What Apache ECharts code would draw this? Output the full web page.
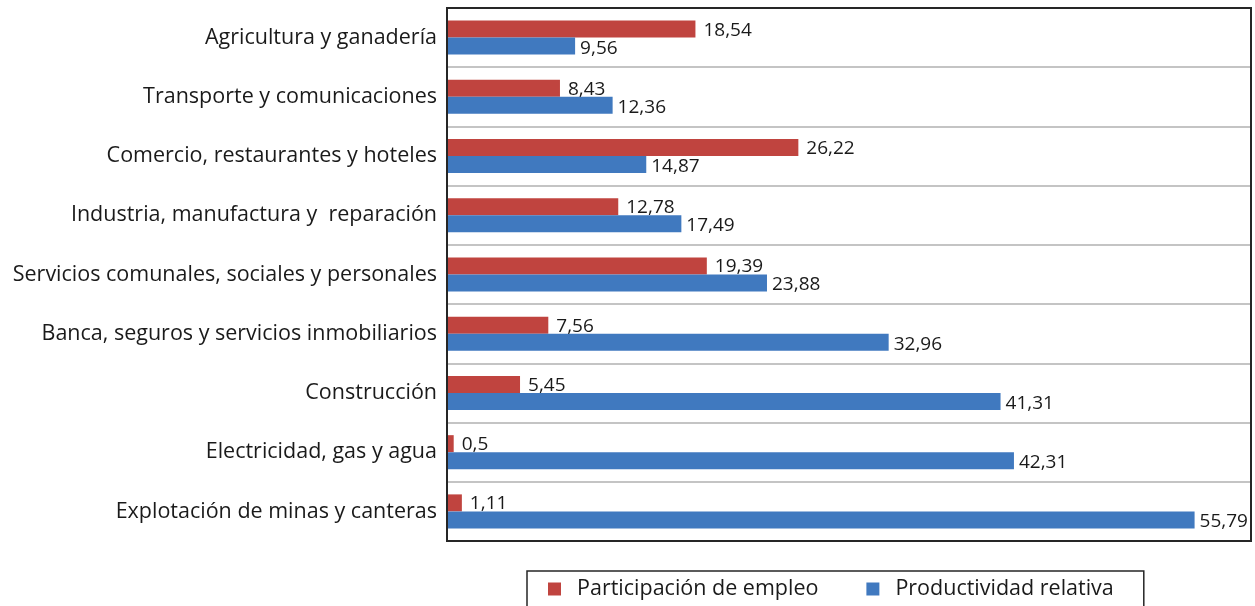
<!DOCTYPE html>
<html>
<head>
<meta charset="utf-8">
<script src="https://cdn.jsdelivr.net/npm/echarts@6/dist/echarts.min.js"></script>
<style>
  html, body { margin: 0; padding: 0; background: #fff; }
  #chart { width: 1255px; height: 606px; }
</style>
</head>
<body>
<div id="chart"></div>
<script>
const categories = [
  'Agricultura y ganadería',
  'Transporte y comunicaciones',
  'Comercio, restaurantes y hoteles',
  'Industria, manufactura y  reparación',
  'Servicios comunales, sociales y personales',
  'Banca, seguros y servicios inmobiliarios',
  'Construcción',
  'Electricidad, gas y agua',
  'Explotación de minas y canteras'
]
const empleo = [18.54, 8.43, 26.22, 12.78, 19.39, 7.56, 5.45, 0.5, 1.11]
const productividad = [9.56, 12.36, 14.87, 17.49, 23.88, 32.96, 41.31, 42.31, 55.79]

const chart = echarts.init(document.getElementById('chart'))
const font = 'Open Sans'
// coma decimal
const fmt = (p) => String(p.value).replace('.', ',')

const option = {
  animation: false,
  textStyle: { fontFamily: font },
  grid: {
    left: 447,
    right: 4,
    top: 8,
    bottom: 65,
    show: true,
    z: 10,
    borderColor: '#262626',
    borderWidth: 2
  },
  xAxis: {
    type: 'value',
    min: 0,
    max: 60,
    axisLabel: { show: false },
    axisLine: { show: false },
    axisTick: { show: false },
    splitLine: { show: false }
  },
  yAxis: {
    type: 'category',
    inverse: true,
    data: categories,
    axisLine: { show: true, lineStyle: { color: '#262626', width: 2 } },
    axisTick: { show: false },
    axisLabel: {
      color: '#1a1a1a',
      fontSize: 21.5,
      fontFamily: font,
      margin: 10
    },
    splitLine: { show: true, lineStyle: { color: '#c4c4c4', width: 2 } }
  },
  legend: {
    top: 571,
    left: 527,
    itemWidth: 13,
    itemHeight: 13,
    itemGap: 48,
    padding: [7, 30, 20, 21],
    borderColor: '#262626',
    borderWidth: 1.5,
    icon: 'rect',
    textStyle: { fontSize: 21.5, color: '#1a1a1a', fontFamily: font, padding: [0, 0, 0, 11] },
    data: ['Participación de empleo', 'Productividad relativa']
  },
  series: [
    {
      name: 'Participación de empleo',
      type: 'bar',
      data: empleo,
      barWidth: 17,
      barGap: '0%',
      itemStyle: { color: '#c0443f' },
      label: {
        show: true,
        position: 'right',
        distance: 8,
        offset: [0, 1],
        color: '#1a1a1a',
        fontSize: 19,
        fontFamily: font,
        formatter: fmt
      }
    },
    {
      name: 'Productividad relativa',
      type: 'bar',
      data: productividad,
      barWidth: 17,
      barGap: '0%',
      itemStyle: { color: '#4079bf' },
      label: {
        show: true,
        position: 'right',
        distance: 5,
        offset: [0, 2],
        color: '#1a1a1a',
        fontSize: 19,
        fontFamily: font,
        formatter: fmt
      }
    }
  ]
}

chart.setOption(option)
</script>
</body>
</html>
